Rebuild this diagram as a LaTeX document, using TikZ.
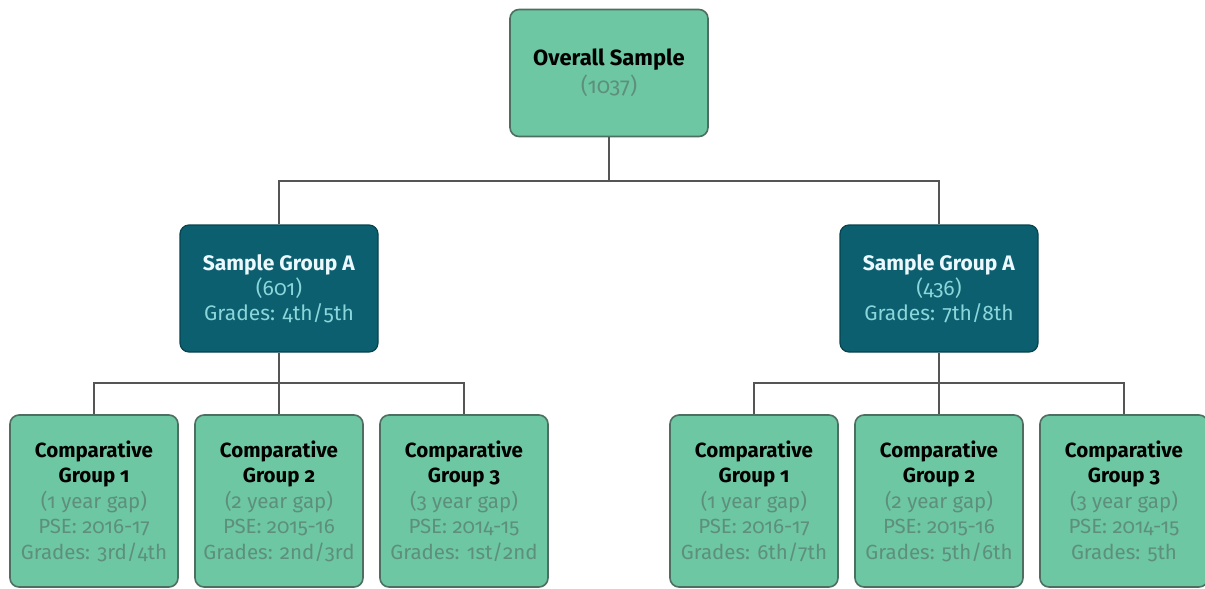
\documentclass[tikz,border=0pt]{standalone}
\usepackage{fontspec}
\setmainfont{Fira Sans}[Numbers=OldStyle]
\definecolor{lgreen}{HTML}{6CC7A2}
\definecolor{lborder}{HTML}{4E6E62}
\definecolor{dteal}{HTML}{0C5F6F}
\definecolor{subgray}{HTML}{5E8F7D}
\definecolor{subcyan}{HTML}{8AD6DA}
\definecolor{lnk}{HTML}{555555}
\begin{document}
\begin{tikzpicture}[x=1pt,y=-1pt,
  lightbox/.style={draw=lborder,line width=1.6pt,fill=lgreen,rounded corners=9pt,inner sep=0pt,align=center,font=\fontsize{20.5}{25.5}\selectfont},
  darkbox/.style={draw=dteal!70!black,line width=1.2pt,fill=dteal,rounded corners=9pt,inner sep=0pt,align=center,font=\fontsize{21}{25}\selectfont},
  link/.style={draw=lnk,line width=1.8pt}]
\useasboundingbox (0,0) rectangle (1205,589);
\node[lightbox,minimum width=198pt,minimum height=127pt,font=\fontsize{22}{28}\selectfont] (top) at (609,73)
  {\textbf{Overall Sample}\\\textcolor{subgray}{(1037)}};
\node[darkbox,minimum width=198pt,minimum height=127pt] (A) at (279,288.5)
  {\textcolor{white!92!cyan}{\textbf{Sample Group A}}\\\textcolor{subcyan}{(601)}\\\textcolor{subcyan}{Grades: 4th/5th}};
\node[darkbox,minimum width=198pt,minimum height=127pt] (B) at (939,288.5)
  {\textcolor{white!92!cyan}{\textbf{Sample Group A}}\\\textcolor{subcyan}{(436)}\\\textcolor{subcyan}{Grades: 7th/8th}};
\foreach \n/\x/\g/\gap/\pse/\gr in {
  a1/94/1/1/2016-17/3rd\slash 4th,
  a2/279/2/2/2015-16/2nd\slash 3rd,
  a3/464/3/3/2014-15/1st\slash 2nd,
  b1/754/1/1/2016-17/6th\slash 7th,
  b2/939/2/2/2015-16/5th\slash 6th,
  b3/1124/3/3/2014-15/5th}{
  \node[lightbox,minimum width=168pt,minimum height=172pt] (\n) at (\x,501)
    {\textbf{Comparative}\\\textbf{Group \g}\\\textcolor{subgray}{(\gap\ year gap)}\\\textcolor{subgray}{PSE: \pse}\\\textcolor{subgray}{Grades: \gr}};
}
\coordinate (hy) at (0,181);
\coordinate (ly) at (0,383);
\coordinate (ry) at (0,383);
\draw[link] (top.south) -- (top.south |- hy);
\draw[link] (A.north) -- (A.north |- hy) -- (B.north |- hy) -- (B.north);
\draw[link] (A.south) -- (a2.north);
\draw[link] (a1.north) -- (a1.north |- ly) -- (a3.north |- ly) -- (a3.north);
\draw[link] (B.south) -- (b2.north);
\draw[link] (b1.north) -- (b1.north |- ry) -- (b3.north |- ry) -- (b3.north);
\end{tikzpicture}
\end{document}
